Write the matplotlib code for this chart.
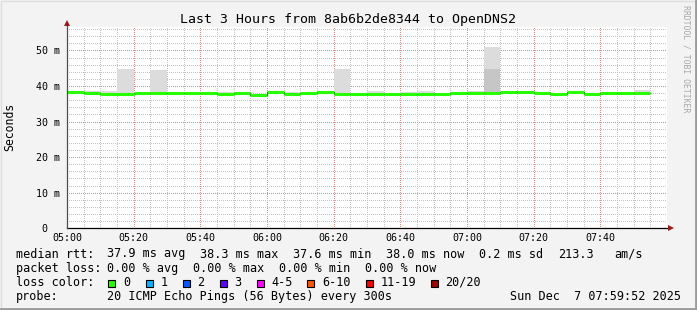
import numpy as np
import matplotlib.pyplot as plt
from matplotlib.patches import Rectangle
from matplotlib.lines import Line2D

W, H = 697, 310
MONO = 'DejaVu Sans Mono'

# 5 minute bins, minutes after 05:00
bin_start = np.arange(0, 175, 5)

# median rtt per bin (ms)
median_ms = [38.2, 38.0, 37.8, 37.8, 38.0, 38.0, 38.0, 38.0, 38.0, 37.8, 38.0, 37.6,
             38.3, 37.8, 38.0, 38.2, 37.8, 37.8, 37.8, 37.8, 37.8, 37.8, 37.8, 38.0,
             38.0, 38.1, 38.2, 38.2, 38.0, 37.7, 38.2, 37.7, 38.0, 38.0, 38.0]
# smoke (spread of the 20 pings) per bin
smoke_lo = [37.8, 37.7, 37.6, 37.6, 37.6, 37.8, 37.8, 37.8, 37.8, 37.6, 37.6, 37.5,
            37.9, 37.6, 37.8, 37.9, 37.6, 37.6, 37.6, 37.6, 37.6, 37.6, 37.6, 37.8,
            37.8, 37.8, 38.0, 37.8, 37.6, 37.5, 37.9, 37.5, 37.8, 37.6, 37.8]
smoke_hi = [38.4, 38.6, 38.5, 44.7, 38.2, 44.4, 38.2, 38.2, 38.2, 38.3, 38.1, 37.8,
            38.5, 38.4, 38.3, 38.6, 44.7, 38.1, 38.6, 38.0, 38.2, 38.5, 38.0, 38.1,
            38.7, 51.1, 38.4, 38.4, 38.2, 37.9, 38.4, 37.9, 38.1, 38.1, 38.8]
# darker inner smoke band (top), equal to smoke_lo where there is none
smoke_dark_hi = [37.8, 37.7, 37.6, 37.6, 37.6, 37.8, 37.8, 37.8, 37.8, 37.6, 37.6, 37.5,
                 37.9, 37.6, 37.8, 37.9, 37.6, 37.6, 37.6, 37.6, 37.6, 37.6, 37.6, 37.8,
                 37.8, 44.7, 38.0, 37.8, 37.6, 37.5, 37.9, 37.5, 37.8, 37.6, 37.8]

time_ticks = [0, 20, 40, 60, 80, 100, 120, 140, 160]
time_labels = ['05:00', '05:20', '05:40', '06:00', '06:20', '06:40', '07:00', '07:20', '07:40']
y_ticks = [0, 10, 20, 30, 40, 50]
y_labels = ['0  ', '10 m', '20 m', '30 m', '40 m', '50 m']

loss_labels = ['0', '1', '2', '3', '4-5', '6-10', '11-19', '20/20']
loss_colors = ['#26ff00', '#00b8ff', '#0059ff', '#5e00ff', '#ff00ff', '#ff5500', '#ff0000', '#a10000']

fig = plt.figure(figsize=(W / 100, H / 100), dpi=100, facecolor='#f3f3f3')


def fx(px):
    return px / W


def fy(py):
    return 1 - py / H


ax = fig.add_axes([fx(67), fy(228.3), 600 / W, (228.3 - 27.3) / H])
ax.set_facecolor('white')
ax.set_xlim(0, 180)
ax.set_ylim(0, 56.5)
for s in ax.spines.values():
    s.set_visible(False)

# grid (1px dotted like rrdtool)
ax.set_xticks(time_ticks)
ax.set_xticks(np.arange(0, 181, 5), minor=True)
ax.set_yticks(y_ticks)
ax.set_yticks(np.arange(0, 57, 2), minor=True)
ax.grid(which='minor', color='#c4c4c4', lw=0.72, ls=(0, (1, 2)), antialiased=False)
ax.grid(which='major', color='#e08a8a', lw=0.72, ls=(0, (1, 2)), antialiased=False)
ax.set_axisbelow(True)
ax.tick_params(which='both', length=0)
ax.set_xticklabels(time_labels, family=MONO, fontsize=7.2)
ax.set_yticklabels(y_labels, family=MONO, fontsize=7.2)
ax.tick_params(axis='x', pad=3.5)
ax.tick_params(axis='y', pad=5)

# smoke
lo = np.array(smoke_lo)
ax.bar(bin_start, np.array(smoke_hi) - lo, bottom=lo, width=5, align='edge',
       color='#dcdcdc', linewidth=0, zorder=2)
ax.bar(bin_start, np.array(smoke_dark_hi) - lo, bottom=lo, width=5, align='edge',
       color='#c6c6c6', linewidth=0, zorder=2)

# median line
edges = np.append(bin_start, bin_start[-1] + 5)
ax.stairs(median_ms, edges, color='#202020', lw=0.8, baseline=None, zorder=3)
ax.hlines(median_ms, bin_start, bin_start + 5, color=loss_colors[0], lw=2.2,
          capstyle='butt', zorder=4)

# axes with arrows
ax.plot([0, 181], [0, 0], color='black', lw=0.9, clip_on=False, zorder=5)
ax.plot([0, 0], [0, 57.3], color='#5a4848', lw=0.9, clip_on=False, zorder=5)
ax.plot([181.3], [0], marker='>', ms=5, color='#9b1a1a', mew=0, clip_on=False, zorder=6)
ax.plot([0], [57.6], marker='^', ms=5, color='#9b1a1a', mew=0, clip_on=False, zorder=6)

# titles
fig.text(fx(347.5), fy(20), 'Last 3 Hours from 8ab6b2de8344 to OpenDNS2',
         family=MONO, fontsize=9.5, ha='center', va='center')
fig.text(fx(10), fy(127), 'Seconds', family=MONO, fontsize=8.3, rotation=90,
         ha='center', va='center')
fig.text(fx(686), fy(59), 'RRDTOOL / TOBI OETIKER', family=MONO, fontsize=5.9,
         rotation=-90, ha='center', va='center', color='#a8a8a8')

# legend
fs = 8.5
row1 = [(16, 'median rtt:'), (107, '37.9 ms avg'), (200, '38.3 ms max'), (292.7, '37.6 ms min'),
        (386, '38.0 ms now'), (479.3, '0.2 ms sd'), (558.3, '213.3'), (614.3, 'am/s')]
row2 = [(16, 'packet loss:'), (107.3, '0.00 % avg'), (193.3, '0.00 % max'),
        (279.3, '0.00 % min'), (365, '0.00 % now')]
for x, t in row1:
    fig.text(fx(x), fy(254), t, family=MONO, fontsize=fs, va='center')
for x, t in row2:
    fig.text(fx(x), fy(268.3), t, family=MONO, fontsize=fs, va='center')

fig.text(fx(16), fy(282), 'loss color:', family=MONO, fontsize=fs, va='center')
box_x = [108.3, 145.7, 182.7, 219.7, 256.7, 307.3, 365.7, 430.7]
for bx, lab, col in zip(box_x, loss_labels, loss_colors):
    fig.add_artist(Rectangle((fx(bx), fy(287)), 7 / W, 7 / H, transform=fig.transFigure,
                             facecolor=col, edgecolor='black', lw=0.8))
    fig.text(fx(bx + 14.5), fy(282), lab, family=MONO, fontsize=fs, va='center')

fig.text(fx(16), fy(296.3), 'probe:', family=MONO, fontsize=fs, va='center')
fig.text(fx(107), fy(296.3), '20 ICMP Echo Pings (56 Bytes) every 300s',
         family=MONO, fontsize=fs, va='center')
fig.text(fx(680.5), fy(296.3), 'Sun Dec  7 07:59:52 2025', family=MONO, fontsize=fs,
         va='center', ha='right')

# image border shading
fig.add_artist(Line2D([fx(0.5), fx(0.5), fx(696)], [fy(309), fy(0.5), fy(0.5)],
                      transform=fig.transFigure, color='#dddddd', lw=1))
fig.add_artist(Line2D([fx(1), fx(696), fx(696)], [fy(309), fy(309), fy(0.5)],
                      transform=fig.transFigure, color='#9a9a9a', lw=2))

fig.savefig('out.png', dpi=100, facecolor=fig.get_facecolor())
